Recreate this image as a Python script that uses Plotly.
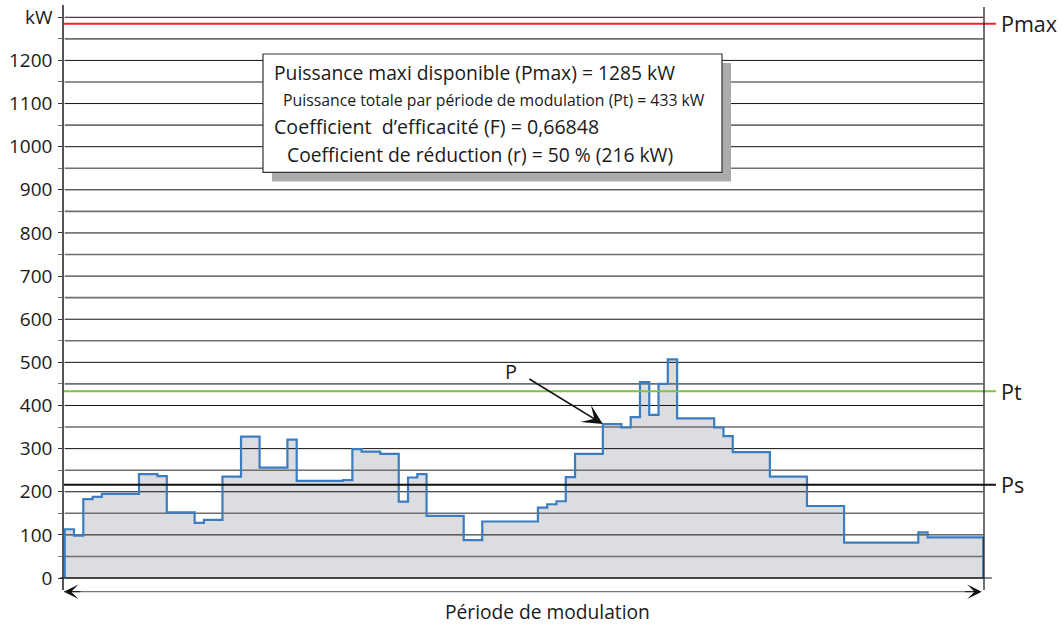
import numpy as np
import plotly.graph_objects as go

# Load profile over one modulation period: step durations (time units) and power (kW)
durations = [1, 1, 1, 1, 4, 2, 1, 3, 1, 2, 2, 2, 3, 1, 5, 1, 1, 2, 2, 1, 1, 1, 4, 2, 6,
             1, 1, 1, 1, 3, 2, 1, 1, 1, 1, 1, 1, 4, 1, 1, 4, 4, 4, 8, 1, 6]
levels = [113, 98, 183, 188, 195, 241, 236, 152, 128, 135, 235, 328, 256, 321, 225,
          227, 299, 293, 288, 177, 233, 241, 144, 88, 131, 163, 171, 178, 234, 288,
          357, 349, 373, 454, 378, 450, 507, 370, 349, 329, 292, 235, 167, 82, 106, 94]

# Reference powers (kW)
P_MAX = 1285
P_T = 433
P_S = 216

# Y axis ticks
tick_values = list(range(0, 1301, 100))
tick_labels = [str(v) for v in range(0, 1201, 100)] + ["kW"]
minor_values = list(range(50, 1300, 100))

info_lines = [
    "Puissance maxi disponible (Pmax) = 1285 kW",
    "Puissance totale par période de modulation (Pt) = 433 kW",
    "Coefficient  d’efficacité (F) = 0,66848",
    "Coefficient de réduction (r) = 50 % (216 kW)",
]

FONT = "Open Sans"
TEXT = "#1a1a1a"

starts = np.concatenate([[0], np.cumsum(durations)[:-1]])
t_end = int(np.sum(durations))
x_pts = [0] + starts.tolist() + [t_end]
y_pts = [0] + levels + [0]

fig = go.Figure()

# grey area under the load curve
fig.add_trace(go.Scatter(x=x_pts, y=y_pts, mode="lines", line_shape="hv",
                         fill="toself", fillcolor="#dcdde0",
                         line=dict(width=0), hoverinfo="skip", showlegend=False))


def grid_xy(values):
    gx, gy = [], []
    for v in values:
        gx += [0, t_end, None]
        gy += [v, v, None]
    return gx, gy


gx, gy = grid_xy(minor_values)
fig.add_trace(go.Scatter(x=gx, y=gy, mode="lines", line=dict(color="#6f6f6f", width=1.6),
                         hoverinfo="skip", showlegend=False))
gx, gy = grid_xy(tick_values)
fig.add_trace(go.Scatter(x=gx, y=gy, mode="lines", line=dict(color="#111111", width=1),
                         hoverinfo="skip", showlegend=False))

# load curve outline
fig.add_trace(go.Scatter(x=x_pts, y=y_pts, mode="lines", line_shape="hv",
                         line=dict(color="#3b7dc0", width=2.2),
                         hoverinfo="skip", showlegend=False))

shapes = []
# reference power lines extending past the right edge
for val, col, w in [(P_MAX, "#e8262d", 2), (P_T, "#7fc241", 2), (P_S, "#111111", 2)]:
    shapes.append(dict(type="line", xref="paper", yref="y", x0=0, x1=1.013,
                       y0=val, y1=val, line=dict(color=col, width=w), layer="above"))
# baseline and right border
shapes.append(dict(type="line", xref="paper", yref="y", x0=-0.0043, x1=1.0087, y0=0, y1=0,
                   line=dict(color="#111111", width=1.2), layer="above"))
shapes.append(dict(type="line", xref="paper", yref="paper", x0=1, x1=1, y0=0, y1=0.9966,
                   line=dict(color="#111111", width=1.2), layer="above"))
# period span line
shapes.append(dict(type="line", xref="paper", yref="paper", x0=0.0, x1=0.995,
                   y0=-0.0029, y1=-0.0029, line=dict(color="#777777", width=1.2)))
# info box with drop shadow
shapes.append(dict(type="rect", xref="paper", yref="paper", x0=0.2261, x1=0.7250,
                   y0=0.6983, y1=0.9009, fillcolor="#ababab", line=dict(width=0), layer="above"))
shapes.append(dict(type="rect", xref="paper", yref="paper", x0=0.2163, x1=0.7152,
                   y0=0.7140, y1=0.9162, fillcolor="white",
                   line=dict(color="#333333", width=1.2), layer="above"))

annotations = []
info_pos = [(0.2258, 0.8838, 19.3), (0.2355, 0.8370, 15.8), (0.2261, 0.7915, 19.6), (0.2402, 0.7436, 19.3)]
for txt, (px, py, fs) in zip(info_lines, info_pos):
    annotations.append(dict(text=txt, xref="paper", yref="paper", x=px, y=py,
                            xanchor="left", yanchor="middle", showarrow=False,
                            font=dict(family=FONT, size=fs, color=TEXT)))

# right-hand labels for the reference lines
for label, val in [("Pmax", P_MAX), ("Pt", P_T), ("Ps", P_S)]:
    annotations.append(dict(text=label, xref="paper", yref="y", x=1.0165, y=val,
                            xanchor="left", yanchor="middle", showarrow=False,
                            font=dict(family=FONT, size=21.5, color=TEXT)))

# P arrow pointing to the load curve
annotations.append(dict(text="", x=float(starts[30]), y=levels[30], xref="x", yref="y",
                        showarrow=True, ax=-75, ay=-46, arrowhead=3, arrowsize=2.1,
                        arrowwidth=1.6, arrowcolor="#111111", standoff=0))
annotations.append(dict(text="P", xref="paper", yref="paper", x=0.4855, y=0.3732,
                        xanchor="center", yanchor="middle", showarrow=False,
                        font=dict(family=FONT, size=20, color=TEXT)))

# double-headed arrow marking the period
annotations.append(dict(text="", xref="paper", yref="paper", x=0, y=-0.0029,
                        showarrow=True, ax=18, ay=0, arrowhead=3, arrowsize=2.4,
                        arrowwidth=1, arrowcolor="#111111", standoff=0))
annotations.append(dict(text="", xref="paper", yref="paper", x=0.9975, y=-0.0029,
                        showarrow=True, ax=-18, ay=0, arrowhead=3, arrowsize=2.4,
                        arrowwidth=1, arrowcolor="#111111", standoff=0))
annotations.append(dict(text="Période de modulation", xref="paper", yref="paper",
                        x=0.525, y=-0.0376, xanchor="center", yanchor="middle",
                        showarrow=False, font=dict(family=FONT, size=19.2, color=TEXT)))

fig.update_layout(
    width=1062, height=626,
    margin=dict(l=64, r=78, t=5, b=36),
    paper_bgcolor="white", plot_bgcolor="white",
    showlegend=False,
    shapes=shapes, annotations=annotations,
    xaxis=dict(range=[-0.08, t_end + 0.08], visible=False),
    yaxis=dict(range=[-27.8, 1328.5], tickmode="array", tickvals=tick_values,
               ticktext=tick_labels, ticks="outside", ticklen=4, tickcolor="#333333",
               tickwidth=1, ticklabelstandoff=2, showgrid=False, zeroline=False,
               showline=True, linecolor="#555555", linewidth=1.5,
               tickfont=dict(family=FONT, size=19, color=TEXT),
               minor=dict(tickmode="array", tickvals=minor_values, ticks="outside",
                          ticklen=4, tickcolor="#777777", showgrid=False)),
)

fig.write_html("out.html")
